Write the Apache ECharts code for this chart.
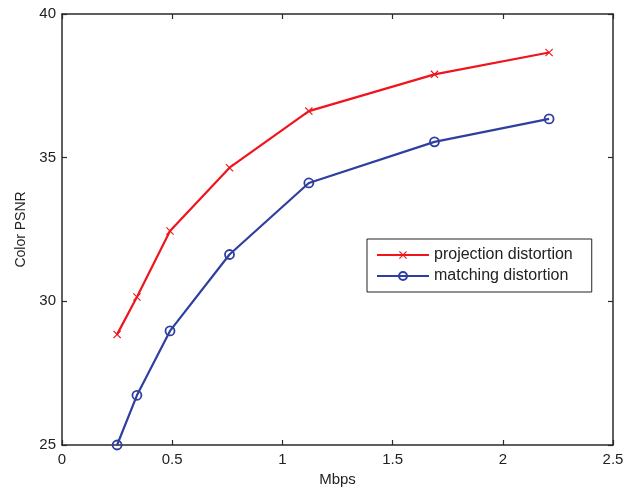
<!DOCTYPE html>
<html>
<head>
<meta charset="utf-8">
<script src="https://cdn.jsdelivr.net/npm/echarts@6/dist/echarts.min.js"></script>
<style>html,body{margin:0;padding:0;background:#fff}#c{width:634px;height:492px}</style>
</head>
<body>
<div id="c"></div>
<script>
const mbps = [0.25, 0.34, 0.49, 0.76, 1.12, 1.69, 2.21];
const projectionDistortion = [28.85, 30.15, 32.45, 34.65, 36.62, 37.9, 38.66];
const matchingDistortion = [25.0, 26.73, 28.97, 31.63, 34.12, 35.55, 36.35];
const xTicks = [0, 0.5, 1, 1.5, 2, 2.5];
const yTicks = [25, 30, 35, 40];
const seriesNames = ['projection distortion', 'matching distortion'];

const font = 'Liberation Sans, Arial, sans-serif';
const axisColor = '#2a2a2a';
const xMin = xTicks[0], xMax = xTicks[xTicks.length - 1], xStep = xTicks[1] - xTicks[0];
const yMin = yTicks[0], yMax = yTicks[yTicks.length - 1], yStep = yTicks[1] - yTicks[0];

function xAxisDef(pos, show) {
  return {
    type: 'value', position: pos, min: xMin, max: xMax, interval: xStep,
    name: show ? 'Mbps' : '', nameLocation: 'middle', nameGap: 27,
    nameTextStyle: { fontFamily: font, fontSize: 15, color: '#222' },
    axisLine: { show: true, onZero: false, lineStyle: { color: axisColor, width: 1.5 } },
    axisTick: { show: true, inside: true, length: 5, lineStyle: { color: axisColor, width: 1.2 } },
    axisLabel: { show: show, fontFamily: font, fontSize: 15, color: '#222', margin: 7,
      formatter: v => String(v) },
    splitLine: { show: false }
  };
}
function yAxisDef(pos, show) {
  return {
    type: 'value', position: pos, min: yMin, max: yMax, interval: yStep,
    name: show ? 'Color PSNR' : '', nameLocation: 'middle', nameGap: 32,
    nameTextStyle: { fontFamily: font, fontSize: 14, color: '#222' },
    axisLine: { show: true, onZero: false, lineStyle: { color: axisColor, width: 1.5 } },
    axisTick: { show: true, inside: true, length: 5, lineStyle: { color: axisColor, width: 1.2 } },
    axisLabel: { show: show, fontFamily: font, fontSize: 15, color: '#222', margin: 6 },
    splitLine: { show: false }
  };
}

const crossPath = 'path://M0,1L1,0L5,4L9,0L10,1L6,5L10,9L9,10L5,6L1,10L0,9L4,5Z';
const red = '#f0141c';
const blue = '#2f3f9f';

const chart = echarts.init(document.getElementById('c'), null, { renderer: 'canvas' });
chart.setOption({
  animation: false,
  backgroundColor: '#fff',
  grid: { left: 62, right: 21, top: 14, bottom: 44.5, containLabel: false },
  xAxis: [xAxisDef('bottom', true), xAxisDef('top', false)],
  yAxis: [yAxisDef('left', true), yAxisDef('right', false)],
  legend: {
    left: 367, top: 239, orient: 'vertical',
    itemWidth: 52, itemHeight: 10, itemGap: 5,
    padding: [8, 19, 8, 9],
    borderColor: '#222', borderWidth: 1, backgroundColor: '#fff',
    textStyle: { fontFamily: font, fontSize: 16, color: '#222' },
    data: seriesNames
  },
  series: [
    {
      name: seriesNames[0], type: 'line',
      data: mbps.map((x, i) => [x, projectionDistortion[i]]),
      symbol: crossPath, symbolSize: 8,
      lineStyle: { color: red, width: 2.2 },
      itemStyle: { color: red, borderWidth: 0 }
    },
    {
      name: seriesNames[1], type: 'line',
      data: mbps.map((x, i) => [x, matchingDistortion[i]]),
      symbol: 'circle', symbolSize: 9,
      lineStyle: { color: blue, width: 2.2 },
      itemStyle: { color: 'rgba(255,255,255,0)', borderColor: blue, borderWidth: 1.8 }
    }
  ]
});
</script>
</body>
</html>
